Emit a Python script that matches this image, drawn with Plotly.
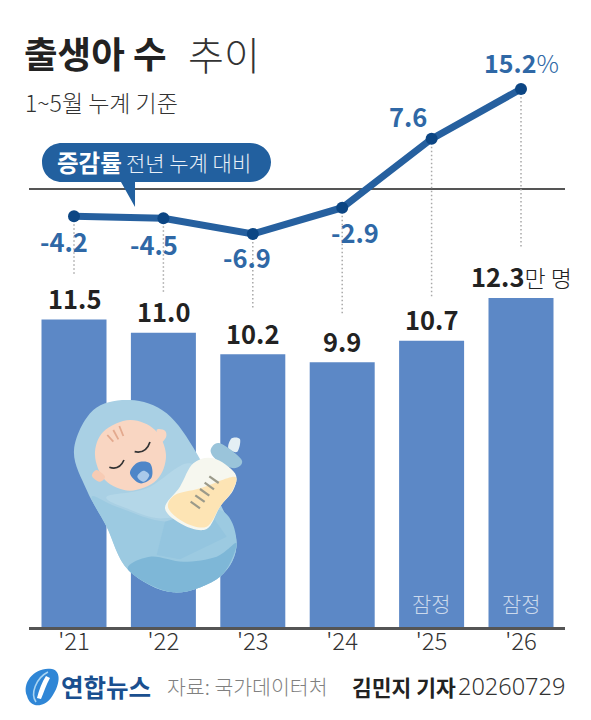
import plotly.graph_objects as go

years = ["'21", "'22", "'23", "'24", "'25", "'26"]
births = [11.5, 11.0, 10.2, 9.9, 10.7, 12.3]
birth_labels = ["11.5", "11.0", "10.2", "9.9", "10.7", "12.3"]
change = [-4.2, -4.5, -6.9, -2.9, 7.6, 15.2]
change_labels = ["-4.2", "-4.5", "-6.9", "-2.9", "7.6", "15.2"]

W, H = 591, 720
L, R, B = 29, 26, 93
PW, PH = W - L - R, H - B
ZERO_PX, PCT_PX = 188.7, 6.56
KR = "Noto Sans CJK KR"
NUM = "Noto Sans CJK KR"
BAR = "#5c88c6"
LINE = "#26609f"
DOT = "#0c4684"
BLUE_TXT = "#2f68a6"
INK = "#222222"

def X(x): return (x - L) / PW
def Y(y): return (H - B - y) / PH
def path(cmds):
    out = []
    for c in cmds:
        if isinstance(c, str):
            out.append(c)
        else:
            out.append(f"{X(c[0]):.4f},{Y(c[1]):.4f}")
    return " ".join(out)
def Z(x, y):  # illustration coordinates from the 3x crop
    return (50 + x / 3, 380 + y / 3)
def shp(cmds, fill, line=None, lw=0, op=1):
    return dict(type="path", xref="paper", yref="paper", path=path(cmds), fillcolor=fill,
                opacity=op, line=dict(color=line or "rgba(0,0,0,0)", width=lw), layer="above")
def blob(points, fill, **k):
    cmds = ["M", Z(*points[0])]
    n = len(points)
    for i in range(n):
        p0, p1, p2, p3 = points[i - 1], points[i], points[(i + 1) % n], points[(i + 2) % n]
        c1 = (p1[0] + (p2[0] - p0[0]) / 6, p1[1] + (p2[1] - p0[1]) / 6)
        c2 = (p2[0] - (p3[0] - p1[0]) / 6, p2[1] - (p3[1] - p1[1]) / 6)
        cmds += ["C", Z(*c1), Z(*c2), Z(*p2)]
    cmds.append("Z")
    return shp(cmds, fill, **k)
def poly(points, fill, **k):
    cmds = ["M", Z(*points[0])]
    for p in points[1:]:
        cmds += ["L", Z(*p)]
    cmds.append("Z")
    return shp(cmds, fill, **k)
def stroke(points, color, lw):
    cmds = ["M", Z(*points[0])]
    if len(points) == 3:
        cmds += ["Q", Z(*points[1]), Z(*points[2])]
    else:
        for p in points[1:]:
            cmds += ["L", Z(*p)]
    return dict(type="path", xref="paper", yref="paper", path=path(cmds), fillcolor="rgba(0,0,0,0)",
                line=dict(color=color, width=lw), layer="above")

fig = go.Figure()
fig.add_bar(x=list(range(6)), y=births, width=65 / 89.4, marker=dict(color=BAR, line_width=0),
            hoverinfo="skip", showlegend=False)

# dotted guide lines, from each line point down to just above its bar label
guide_end = [275, 292, 310, 315, 298, 248]
for i, end in enumerate(guide_end):
    fig.add_scatter(x=[i, i], y=[change[i], (ZERO_PX - end) / PCT_PX], yaxis="y2", mode="lines",
                    line=dict(color="#a8a8a8", width=1.5, dash="1.5px,2.5px"),
                    hoverinfo="skip", showlegend=False)

fig.add_scatter(x=list(range(6)), y=change, yaxis="y2", mode="lines+markers",
                line=dict(color=LINE, width=7), marker=dict(color=DOT, size=12),
                hoverinfo="skip", showlegend=False)

ann = []
def txt(x, y, s, size, color=INK, anchor="left", weight=None, family=KR, **k):
    f = dict(family=family, size=size, color=color)
    if weight: f["weight"] = weight
    ann.append(dict(xref="paper", yref="paper", x=X(x), y=Y(y), text=s, showarrow=False, borderpad=0, borderwidth=0,
                    xanchor=anchor, yanchor="middle", font=f, **k))

txt(24, 53, "<b>출생아 수</b>", 36.5)
txt(188, 53, "추이", 39, color="#333333", weight=300)
txt(25, 102, "1~5월 누계 기준", 23, color="#333333", weight=300)
txt(57, 162, "<b>증감률</b>", 23.5, color="white")
txt(126, 162, "전년 누계 대비", 21, color="#e9f0f8", weight=300)

for i, t in enumerate(birth_labels):
    s = f"<b>{t}</b>"
    if i == 5:
        s += "<span style='font-size:23px;font-weight:300'>만 명</span>"
    ann.append(dict(xref="x", yref="y", x=i, y=births[i], text=s, showarrow=False, yshift=22,
                    xanchor="center", yanchor="middle", font=dict(family=NUM, size=25.5, color=INK)))

shifts = [(-10, -24), (-9, -25), (-6, -23), (13, -24), (-24, 23), (0, 27)]
for i, (dx, dy) in enumerate(shifts):
    s = f"<b>{change_labels[i]}</b>"
    if i == 5:
        s += "<span style='font-weight:300'>%</span>"
    ann.append(dict(xref="x", yref="y2", x=i, y=change[i], text=s, showarrow=False, xshift=dx, yshift=dy,
                    xanchor="center", yanchor="middle",
                    font=dict(family=NUM, size=25 if i == 5 else 25.5, color=BLUE_TXT)))
for i in (4, 5):
    ann.append(dict(xref="x", yref="y", x=i, y=0, text="잠정", showarrow=False, yshift=24,
                    xanchor="center", yanchor="middle", font=dict(family=KR, size=21, color="#cbd9ec", weight=300)))

txt(61, 686, "<b>연합뉴스</b>", 24.5, color="#1a4f8f")
txt(167, 686, "자료: 국가데이터처", 20.5, color="#808080", weight=300)
txt(352, 686, "<b>김민지 기자</b>", 21.5, color=INK)
txt(565, 686, "20260729", 23.5, color="#333333", anchor="right", weight=300, family="Noto Sans")

shapes = []
# bubble
shapes.append(shp(["M", (62, 143), "L", (250, 143), "C", (262, 143), (271, 152), (271, 162),
                   "C", (271, 173), (262, 182), (250, 182), "L", (135, 182), "L", (135, 207), "L", (121, 182),
                   "L", (62, 182), "C", (50, 182), (42, 173), (42, 162), "C", (42, 152), (50, 143), (62, 143), "Z"], "#22609f"))
# baby wrap
wrap = [(240, 60), (130, 90), (72, 210), (110, 330), (170, 440), (235, 570), (370, 637), (510, 590),
        (560, 490), (510, 370), (440, 220), (350, 100)]
shapes.append(blob(wrap, "#a9d0e4"))
shapes.append(blob([(125, 350), (170, 440), (235, 570), (370, 637), (510, 590), (560, 490), (510, 390), (350, 425), (200, 380)], "#9ccae1"))
shapes.append(blob([(235, 570), (370, 637), (510, 590), (560, 490), (500, 530), (400, 545), (300, 530)], "#7eb7d7"))
shapes.append(poly([(345, 425), (470, 385), (530, 470), (390, 538), (320, 525)], "#94c5df"))
shapes.append(blob([(170, 350), (290, 325), (420, 250), (470, 370), (340, 415), (230, 385)], "#b4d7e8"))
# face
shapes.append(blob([(135, 225), (160, 155), (240, 120), (315, 150), (348, 225), (320, 300), (240, 332), (165, 300)], "#f9d6c2"))
shapes.append(blob([(320, 150), (345, 152), (348, 172), (330, 188)], "#f9d6c2"))
shapes.append(blob([(140, 270), (126, 288), (148, 305), (165, 290)], "#f7cbb4"))
# hair, eyes
for a, b in [((172, 165), (190, 185)), ((190, 150), (205, 178)), ((208, 138), (220, 168))]:
    shapes.append(stroke([a, b], "#e3a98e", 1.8))
shapes.append(stroke([(178, 262), (208, 272), (222, 240)], "#333333", 1.7))
shapes.append(stroke([(254, 215), (288, 222), (300, 186)], "#333333", 1.7))
# pacifier
shapes.append(blob([(240, 280), (262, 248), (300, 250), (305, 292), (270, 310)], "#4e86c8"))
shapes.append(blob([(262, 290), (280, 272), (298, 285), (282, 305)], "#a9c9ea"))
# bottle
shapes.append(blob([(535, 205), (545, 175), (570, 178), (562, 215)], "#e4eff4"))
shapes.append(blob([(482, 210), (510, 190), (575, 240), (552, 265), (500, 240)], "#9ac4da"))
shapes.append(blob([(490, 235), (555, 280), (550, 330), (510, 380), (470, 447), (400, 435), (345, 385), (390, 320), (430, 250)], "#f6f7ef"))
shapes.append(blob([(552, 290), (548, 330), (510, 380), (470, 440), (405, 428), (355, 385), (375, 345), (450, 325)], "#fde4b4"))
for i in range(5):
    shapes.append(stroke([(422 + i * 14, 365 - i * 19), (450 + i * 14, 385 - i * 19)], "#9b9a8a", 2.2))
# logo
shapes.append(dict(type="path", xref="paper", yref="paper", fillcolor="#2f86d6", line=dict(width=0), layer="above",
    path=path(["M", (27, 696), "C", (21, 682), (36, 666), (52, 669), "C", (62, 671), (60, 686), (51, 698),
               "C", (43, 708), (30, 708), (27, 696), "Z"])))
shapes.append(dict(type="path", xref="paper", yref="paper", fillcolor="rgba(0,0,0,0)", line=dict(width=1.6, color="#a9d4f2"), layer="above",
    path=path(["M", (36, 702), "C", (30, 694), (36, 678), (48, 672)])))
shapes.append(dict(type="path", xref="paper", yref="paper", fillcolor="white", line=dict(width=0), layer="above",
    path=path(["M", (37, 698), "C", (39, 690), (42, 682), (46, 676), "L", (50, 678),
               "C", (46, 685), (44, 692), (41, 699), "Z"])))

fig.update_layout(
    width=W, height=H, paper_bgcolor="white", plot_bgcolor="white",
    margin=dict(l=L, r=R, t=0, b=B, pad=0), showlegend=False,
    xaxis=dict(range=[(L - 74) / 89.4, (W - R - 74) / 89.4], tickmode="array", tickvals=list(range(6)), ticktext=years,
               showgrid=False, zeroline=False, showline=True, linecolor="#555555", linewidth=2.5, ticks="",
               ticklabelstandoff=-9, tickfont=dict(family=KR, size=24, color="#333333", weight=300)),
    yaxis=dict(range=[0, PH / 26.75], visible=False),
    yaxis2=dict(range=[(ZERO_PX - PH) / PCT_PX, ZERO_PX / PCT_PX], overlaying="y", visible=True, showticklabels=False, showgrid=False,
                zeroline=True, zerolinecolor="#555555", zerolinewidth=1.6, showline=False, ticks=""),
    annotations=ann, shapes=shapes,
)
fig.write_html("out.html", config=dict(displayModeBar=False), post_script="document.body.style.margin='0';")
